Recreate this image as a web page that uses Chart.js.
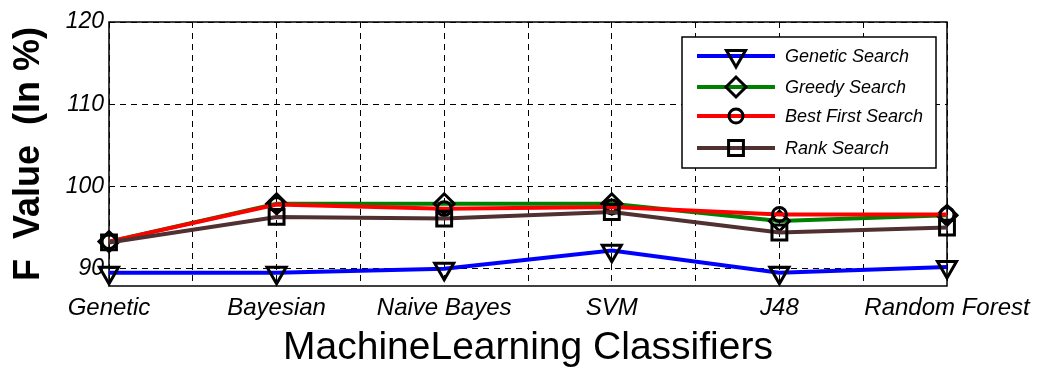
<!DOCTYPE html>
<html>
<head>
<meta charset="utf-8">
<script src="https://cdn.jsdelivr.net/npm/chart.js@4/dist/chart.umd.min.js"></script>
<style>
  html, body { margin: 0; padding: 0; background: #fff; }
  #wrap { width: 1046px; height: 372px; }
</style>
</head>
<body>
<div id="wrap"><canvas id="grafico"></canvas></div>
<script>
const classificadores = ['Genetic', 'Bayesian', 'Naive Bayes', 'SVM', 'J48', 'Random Forest']
const geneticSearch = [89.5, 89.5, 90.0, 92.2, 89.5, 90.2]
const greedySearch = [93.3, 97.9, 97.9, 97.9, 95.8, 96.5]
const bestFirstSearch = [93.3, 97.8, 97.3, 97.5, 96.6, 96.6]
const rankSearch = [93.2, 96.3, 96.1, 96.9, 94.4, 95.0]
const yTicks = [90, 100, 110, 120]
const yMin = 87.9
const yMax = 120

const pontos = (valores) => valores.map((v, i) => ({ x: i, y: v }))

const serie = (label, valores, cor, estilo, raio, rot, ordem) => ({
    label: label,
    data: pontos(valores),
    borderColor: cor,
    borderWidth: 4,
    pointStyle: estilo,
    pointRadius: raio,
    pointRotation: rot,
    pointBorderColor: '#000',
    pointBackgroundColor: 'rgba(0,0,0,0)',
    pointBorderWidth: 3,
    tension: 0,
    clip: false,
    order: ordem
})

const datasets = [
    serie('Genetic Search', geneticSearch, '#0000ff', 'triangle', 11, 180, 3),
    serie('Greedy Search', greedySearch, '#008000', 'rectRot', 10, 0, 2),
    serie('Best First Search', bestFirstSearch, '#ff0000', 'circle', 7, 0, 1),
    serie('Rank Search', rankSearch, '#503030', 'rect', 10.5, 0, 0)
]

// moldura do eixo (caixa)
const moldura = {
    id: 'moldura',
    beforeDatasetsDraw(chart) {
        const { ctx, chartArea: a } = chart
        ctx.save()
        ctx.strokeStyle = '#000'
        ctx.lineWidth = 1.5
        ctx.strokeRect(a.left, a.top, a.right - a.left, a.bottom - a.top)
        ctx.restore()
    }
}

// legenda dentro do grafico
const legenda = {
    id: 'legenda',
    afterDraw(chart) {
        const ctx = chart.ctx
        const bx = 682, by = 37, bw = 254, bh = 131
        ctx.save()
        ctx.fillStyle = '#fff'
        ctx.fillRect(bx, by, bw, bh)
        ctx.strokeStyle = '#000'
        ctx.lineWidth = 1.5
        ctx.strokeRect(bx, by, bw, bh)
        const linhas = [56, 87, 116, 148]
        chart.data.datasets.forEach((ds, i) => {
            const y = linhas[i]
            ctx.strokeStyle = ds.borderColor
            ctx.lineWidth = 4
            ctx.beginPath()
            ctx.moveTo(697, y)
            ctx.lineTo(775, y)
            ctx.stroke()
            ctx.strokeStyle = '#000'
            ctx.fillStyle = 'rgba(0,0,0,0)'
            ctx.lineWidth = 3
            Chart.helpers.drawPoint(ctx, {
                pointStyle: ds.pointStyle,
                rotation: ds.pointRotation,
                radius: ds.pointRadius,
                borderWidth: 3
            }, 736, y)
            ctx.fillStyle = '#000'
            ctx.font = 'italic 18px "Liberation Sans", Arial, sans-serif'
            ctx.textBaseline = 'middle'
            ctx.textAlign = 'left'
            ctx.fillText(ds.label, 785, y + 1)
        })
        ctx.restore()
    }
}

const grafico = new Chart(document.getElementById('grafico'), {
    type: 'line',
    data: { datasets: datasets },
    plugins: [moldura, legenda],
    options: {
        responsive: true,
        maintainAspectRatio: false,
        animation: false,
        layout: { padding: { top: 22, right: 99, left: 0, bottom: 0 } },
        plugins: {
            legend: { display: false },
            tooltip: { enabled: false }
        },
        scales: {
            x: {
                type: 'linear',
                min: 0,
                max: classificadores.length - 1,
                afterBuildTicks: (s) => {
                    const t = []
                    for (let v = 0; v <= classificadores.length - 1; v += 0.5) t.push({ value: v })
                    s.ticks = t
                },
                afterFit: (s) => { s.height = 86 },
                ticks: {
                    autoSkip: false,
                    maxRotation: 0,
                    padding: 8,
                    color: '#000',
                    font: { family: '"Liberation Sans", Arial, sans-serif', size: 24, style: 'italic' },
                    callback: (v) => Number.isInteger(v) ? classificadores[v] : ''
                },
                grid: { color: '#000', lineWidth: 1, drawTicks: false },
                border: { display: false, dash: [6, 5] },
                title: {
                    display: true,
                    text: 'MachineLearning Classifiers',
                    color: '#000',
                    font: { family: '"Liberation Sans", Arial, sans-serif', size: 39 },
                    padding: { top: 0, bottom: 0 }
                }
            },
            y: {
                min: yMin,
                max: yMax,
                afterBuildTicks: (s) => { s.ticks = yTicks.map(v => ({ value: v })) },
                afterFit: (s) => { s.width = 109 },
                ticks: {
                    padding: 5,
                    color: '#000',
                    font: { family: '"Liberation Sans", Arial, sans-serif', size: 23, style: 'italic' }
                },
                grid: { color: '#000', lineWidth: 1, drawTicks: false },
                border: { display: false, dash: [6, 5] },
                title: {
                    display: true,
                    text: 'F  Value  (In %)',
                    color: '#000',
                    font: { family: '"Liberation Sans", Arial, sans-serif', size: 36, weight: 'bold' },
                    padding: { top: 7, bottom: 0 }
                }
            }
        }
    }
})
</script>
</body>
</html>
